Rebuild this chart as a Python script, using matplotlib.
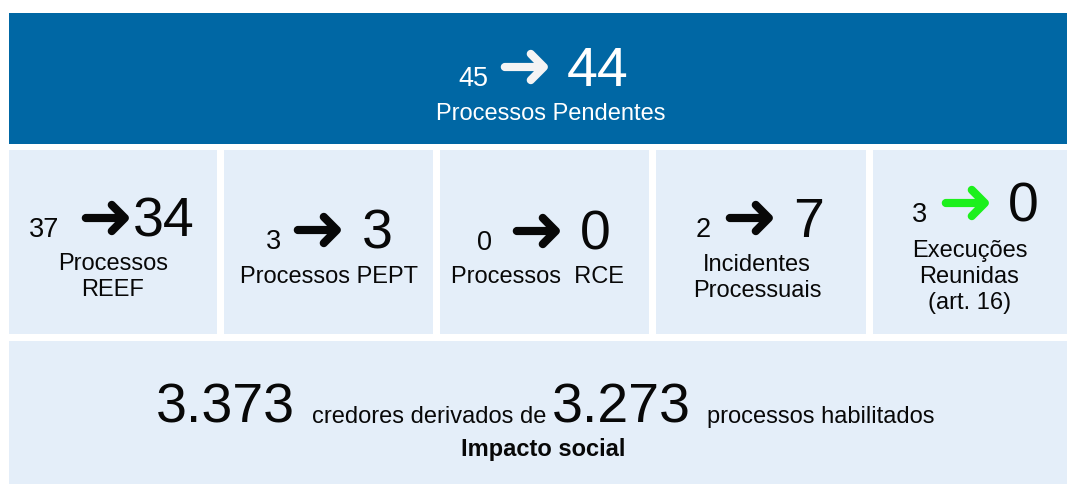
import matplotlib
matplotlib.use("Agg")
import matplotlib.pyplot as plt
from matplotlib.patches import Rectangle

# ---------------- data ----------------
top_before = 45
top_after = 44
top_label = "Processos Pendentes"

card_before = [37, 3, 0, 2, 3]
card_after = [34, 3, 0, 7, 0]
card_labels = ["Processos\nREEF", "Processos PEPT", "Processos  RCE",
               "Incidentes\nProcessuais", "Execuções\nReunidas\n(art. 16)"]

creditors = "3.373"
creditors_text = "credores derivados de"
processes = "3.273"
processes_text = "processos habilitados"
bottom_title = "Impacto social"

# ---------------- style / layout ----------------
BLUE = "#0067a4"
LIGHT = "#e4eef9"
GREEN = "#1cf01c"
TXT = "#080808"
FONT = "Liberation Sans"
ARROW = "\u279C"

W, H = 1068, 485
fig = plt.figure(figsize=(W / 100, H / 100), dpi=100)
ax = fig.add_axes([0, 0, 1, 1])
ax.set_xlim(0, W)
ax.set_ylim(H, 0)
ax.axis("off")

BIG, SMALL, LAB = 40, 19.5, 17
ARROW_FS = 48

def arrow(xc, ybase, color):
    ax.text(xc, ybase, ARROW, fontsize=ARROW_FS, color=color, ha="center",
            va="baseline", family=["DejaVu Sans"])

# top banner
ax.add_patch(Rectangle((9, 14), 1058, 131, facecolor=BLUE, edgecolor="none"))
ax.text(458, 86, str(top_before), fontsize=SMALL, color="white", ha="left",
        va="baseline", family=FONT)
arrow(524, 88, "#f4f4f4")
ax.text(567, 86, str(top_after), fontsize=BIG, color="white", ha="left",
        va="baseline", family=FONT)
ax.text(551, 120, top_label, fontsize=LAB, color="white", ha="center",
        va="baseline", family=FONT)

# cards
box_x = [(9, 217), (224, 433), (440, 649), (656, 866), (873, 1067)]
num_base = [237, 249, 250, 237, 222]
small_x = [29, 266, 477, 696, 912]
arrow_c = [105.5, 317, 536, 749, 965]
big_x = [133, 362, 580, 793, 1008]
label_c = [113, 328.5, 537.5, 757, 969.5]
label_base = [270, 283, 283, 271, 257]
arrow_col = [TXT, TXT, TXT, TXT, GREEN]

for i in range(5):
    x0, x1 = box_x[i]
    ax.add_patch(Rectangle((x0, 151), x1 - x0, 184, facecolor=LIGHT,
                           edgecolor="none"))
    ax.text(small_x[i], num_base[i], str(card_before[i]), fontsize=SMALL,
            color=TXT, ha="left", va="baseline", family=FONT)
    arrow(arrow_c[i], num_base[i] + 2, arrow_col[i])
    ax.text(big_x[i], num_base[i], str(card_after[i]), fontsize=BIG,
            color=TXT, ha="left", va="baseline", family=FONT)
    for j, line in enumerate(card_labels[i].split("\n")):
        ax.text(label_c[i], label_base[i] + 26 * j, line, fontsize=LAB,
                color=TXT, ha="center", va="baseline", family=FONT)

# bottom
ax.add_patch(Rectangle((9, 342), 1058, 143, facecolor=LIGHT, edgecolor="none"))
ax.text(156, 423, creditors, fontsize=BIG, color=TXT, ha="left",
        va="baseline", family=FONT)
ax.text(312, 423, creditors_text, fontsize=LAB, color=TXT, ha="left",
        va="baseline", family=FONT)
ax.text(552, 423, processes, fontsize=BIG, color=TXT, ha="left",
        va="baseline", family=FONT)
ax.text(707, 423, processes_text, fontsize=LAB, color=TXT, ha="left",
        va="baseline", family=FONT)
ax.text(543, 456, bottom_title, fontsize=LAB, color=TXT, ha="center",
        va="baseline", family=FONT, fontweight="bold")

fig.savefig("out.png", dpi=100, facecolor="white")
